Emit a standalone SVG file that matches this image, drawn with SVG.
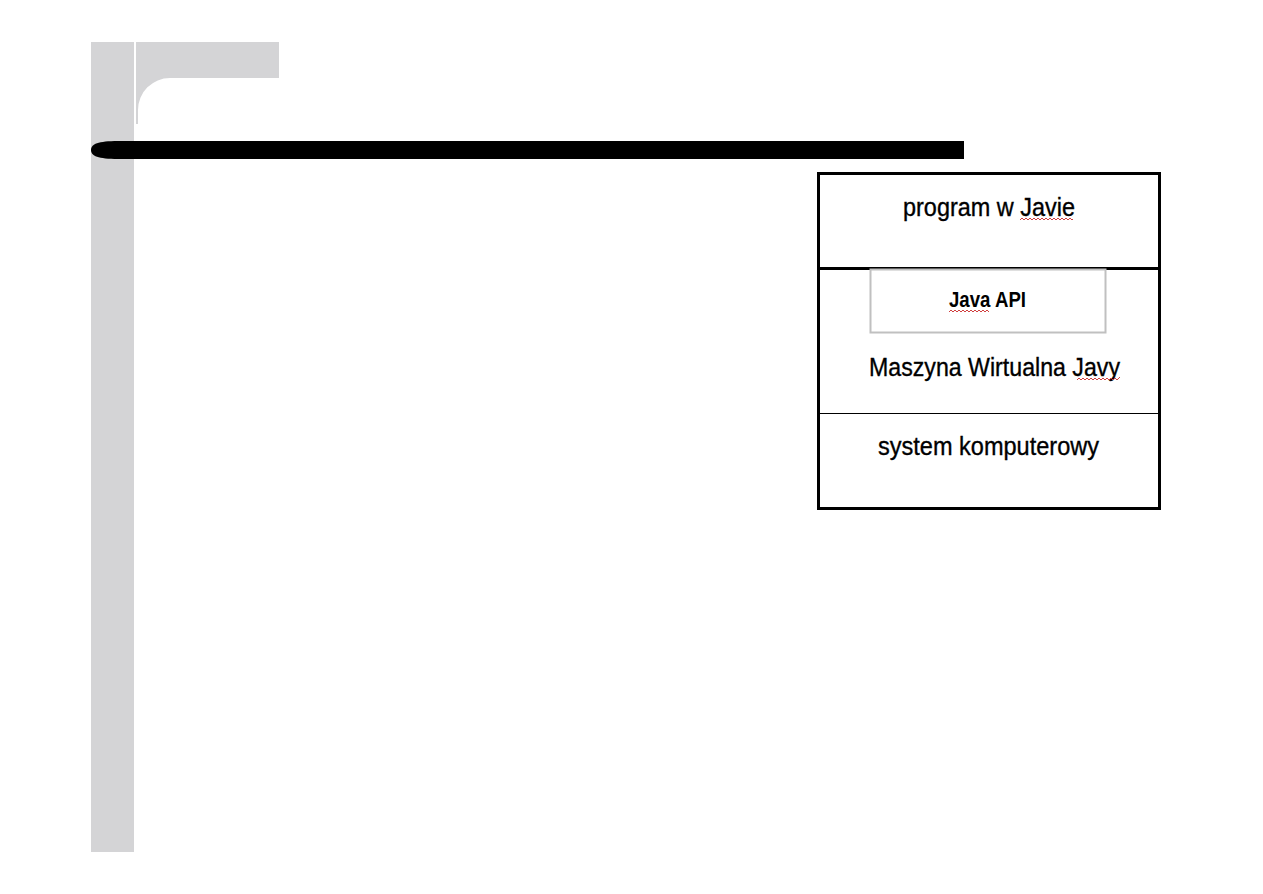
<svg xmlns="http://www.w3.org/2000/svg" width="1263" height="894" viewBox="0 0 1263 894">
<style>
.lbl{font-family:"Liberation Sans",Arial,sans-serif;font-size:25.5px;fill:#000;stroke:#000;stroke-width:0.35;text-anchor:middle}
.bold{font-weight:bold;font-size:22.5px;stroke-width:0}
.sq{fill:none;stroke:#d04040;stroke-width:1}
</style>
<rect width="1263" height="894" fill="#fff"/>
<g id="decor">
<rect x="91" y="42" width="43" height="810" fill="#d4d4d6"/>
<path d="M136,42 H279 V78 H170 A32,32 0 0 0 138,110 V124 H136 Z" fill="#d4d4d6"/>
<path d="M964,141 H118 C98,141 91,144 91,150 C91,156 98,159 118,159 H964 Z" fill="#000"/>
</g>
<g id="stack">
<rect x="818.5" y="173.5" width="341" height="335" fill="#fff" stroke="#000" stroke-width="3"/>
<line x1="818" y1="268.5" x2="1159" y2="268.5" stroke="#000" stroke-width="3"/>
<line x1="818" y1="413.5" x2="1159" y2="413.5" stroke="#000" stroke-width="1"/>
</g>
<g id="program">
<text class="lbl" x="989" y="216" textLength="172" lengthAdjust="spacingAndGlyphs">program w Javie</text>
<path class="sq" d="M1020,220 l2,-2 l2,2 l2,-2 l2,2 l2,-2 l2,2 l2,-2 l2,2 l2,-2 l2,2 l2,-2 l2,2 l2,-2 l2,2 l2,-2 l2,2 l2,-2 l2,2 l2,-2 l2,2 l2,-2 l2,2 l2,-2 l2,2 l2,-2 l2,2 l1,-1"/>
</g>
<g id="java-api">
<rect x="870.5" y="269.5" width="235" height="63" fill="#fff" stroke="#c0c0c0" stroke-width="2"/>
<text class="lbl bold" x="987.5" y="307" textLength="77" lengthAdjust="spacingAndGlyphs">Java API</text>
<path class="sq" d="M949,312 l2,-2 l2,2 l2,-2 l2,2 l2,-2 l2,2 l2,-2 l2,2 l2,-2 l2,2 l2,-2 l2,2 l2,-2 l2,2 l2,-2 l2,2 l2,-2 l2,2 l2,-2 l2,2"/>
</g>
<g id="jvm">
<text class="lbl" x="994.5" y="376" textLength="251" lengthAdjust="spacingAndGlyphs">Maszyna Wirtualna Javy</text>
<path class="sq" d="M1077,380 l2,-2 l2,2 l2,-2 l2,2 l2,-2 l2,2 l2,-2 l2,2 l2,-2 l2,2 l2,-2 l2,2 l2,-2 l2,2 l2,-2 l2,2 l2,-2 l2,2 l2,-2 l2,2 l2,-2 l1,-1"/>
</g>
<g id="system">
<text class="lbl" x="988.5" y="455" textLength="221" lengthAdjust="spacingAndGlyphs">system komputerowy</text>
</g>
</svg>
